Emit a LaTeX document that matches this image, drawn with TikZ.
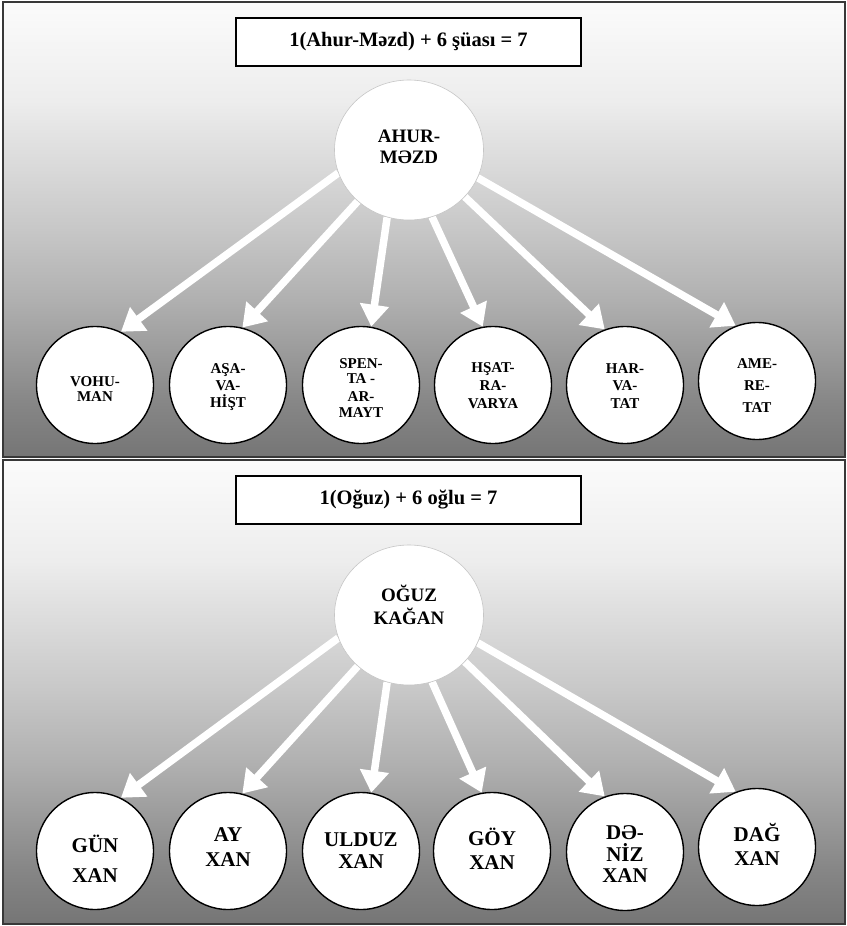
\documentclass[tikz,border=0pt]{standalone}
\usepackage{fontspec}
\setmainfont{Liberation Serif}
\usetikzlibrary{arrows.meta,shapes.geometric}
\pgfdeclarelayer{bg}\pgfdeclarelayer{mid}
\pgfsetlayers{bg,mid,main}
\definecolor{s0}{gray}{0.985}
\definecolor{s1}{gray}{0.93}
\definecolor{s2}{gray}{0.78}
\definecolor{s3}{gray}{0.69}
\definecolor{s4}{gray}{0.53}
\definecolor{s5}{gray}{0.46}
\definecolor{panelline}{gray}{0.22}
\newcommand\panelfill[2]{%
  \pgfmathsetmacro\ya{#1}%
  \pgfmathsetmacro\yb{#1+0.215*#2}%
  \pgfmathsetmacro\yc{#1+0.50*#2}%
  \pgfmathsetmacro\yd{#1+0.655*#2}%
  \pgfmathsetmacro\ye{#1+0.875*#2}%
  \pgfmathsetmacro\yf{#1+#2}%
  \shade[top color=s0,bottom color=s1] (3,\ya) rectangle (845,\yb+0.6);
  \shade[top color=s1,bottom color=s2] (3,\yb) rectangle (845,\yc+0.6);
  \shade[top color=s2,bottom color=s3] (3,\yc) rectangle (845,\yd+0.6);
  \shade[top color=s3,bottom color=s4] (3,\yd) rectangle (845,\ye+0.6);
  \shade[top color=s4,bottom color=s5] (3,\ye) rectangle (845,\yf);
}
\tikzset{
  panel/.style={draw=panelline, line width=1.2pt},
  titlebox/.style={draw=black, line width=1.3pt, fill=white, minimum width=345pt,
    minimum height=48pt, inner sep=0pt, font=\bfseries\fontsize{20.5}{24}\selectfont},
  hub/.style={ellipse, draw=gray!45, line width=0.6pt, fill=white,
    minimum width=149pt, minimum height=140pt, inner sep=0pt},
  leaf/.style={circle, draw=black, line width=1.4pt, fill=white,
    minimum size=117pt, inner sep=0pt},
  hubtext/.style={align=center, inner sep=0pt, font=\bfseries\fontsize{19}{21.5}\selectfont},
  leaftext/.style={align=center, inner sep=0pt, font=\bfseries\fontsize{15}{15}\selectfont},
  leaftextb/.style={align=center, inner sep=0pt, font=\bfseries\fontsize{21}{24}\selectfont},
  ray/.style={draw=white, line width=7.5pt, -{Triangle[length=22pt,width=28pt]}},
}
\begin{document}
\begin{tikzpicture}[x=1pt,y=-1pt]
\useasboundingbox (0,0) rectangle (846,926);
\begin{pgfonlayer}{bg}
  \panelfill{2}{455}
  \panelfill{460}{464}
  \draw[panel] (3,2) rectangle (845,457);
  \draw[panel] (3,460) rectangle (845,924);
\end{pgfonlayer}

% ---------- top panel ----------
\node[titlebox] (title1) at (408.5,42) {1(Ahur-Məzd) + 6 şüası = 7};
\node[hub] (hub1) at (409,150) {};
\node[hubtext] (hub1t) at (409,147) {AHUR-\\MƏZD};

\node[leaf] (l1) at (95,385) {};
\node[leaf] (l2) at (228,385) {};
\node[leaf] (l3) at (361,385) {};
\node[leaf] (l4) at (493,385) {};
\node[leaf] (l5) at (625,385) {};
\node[leaf] (l6) at (757,381) {};
\node[leaftext] (l1t) at (95,389) {VOHU-\\MAN};
\node[leaftext] (l2t) at (228,387) {AŞA-\\[2pt]VA-\\[2pt]HİŞT};
\node[leaftext] (l3t) at (361,388) {SPEN-\\[0pt]TA -\\[3pt]AR-\\[1pt]MAYT};
\node[leaftext] (l4t) at (493,385.5) {HŞAT-\\[3pt]RA-\\[3pt]VARYA};
\node[leaftext] (l5t) at (625,386) {HAR-\\[2.5pt]VA-\\[2.5pt]TAT};
\node[leaftext] (l6t) at (757,386) {AME-\\[7pt]RE-\\[7pt]TAT};

\begin{pgfonlayer}{mid}
  \draw[ray] (hub1.198) -- (l1.64);
  \draw[ray] (hub1.225.5) -- (l2.76);
  \draw[ray] (hub1.252) -- (l3.80);
  \draw[ray] (hub1.289) -- (l4.100);
  \draw[ray] (hub1.320) -- (l5.110);
  \draw[ray] (hub1.338.5) -- (l6.111);
\end{pgfonlayer}

% ---------- bottom panel ----------
\node[titlebox] (title2) at (408.5,500) {1(Oğuz) + 6 oğlu = 7};
\node[hub] (hub2) at (409,615) {};
\node[hubtext] (hub2t) at (409,605) {OĞUZ\\[1pt]KAĞAN};

\node[leaf] (m1) at (95,851) {};
\node[leaf] (m2) at (228,851) {};
\node[leaf] (m3) at (361,851) {};
\node[leaf] (m4) at (492,851) {};
\node[leaf] (m5) at (625,852) {};
\node[leaf] (m6) at (757,847) {};
\node[leaftextb] (m1t) at (95,859) {GÜN\\[6pt]XAN};
\node[leaftextb] (m2t) at (228,847.5) {AY\\[1pt]XAN};
\node[leaftextb] (m3t) at (361,850.5) {ULDUZ\\[-2pt]XAN};
\node[leaftextb] (m4t) at (492,848.5) {GÖY\\XAN};
\node[leaftextb] (m5t) at (625,854.5) {DƏ-\\[-2.5pt]NİZ\\[-2.5pt]XAN};
\node[leaftextb] (m6t) at (757,844) {DAĞ\\XAN};

\begin{pgfonlayer}{mid}
  \draw[ray] (hub2.198) -- (m1.64);
  \draw[ray] (hub2.225.5) -- (m2.76);
  \draw[ray] (hub2.252) -- (m3.80);
  \draw[ray] (hub2.289) -- (m4.100);
  \draw[ray] (hub2.320) -- (m5.110);
  \draw[ray] (hub2.338.5) -- (m6.111);
\end{pgfonlayer}
\end{tikzpicture}
\end{document}
